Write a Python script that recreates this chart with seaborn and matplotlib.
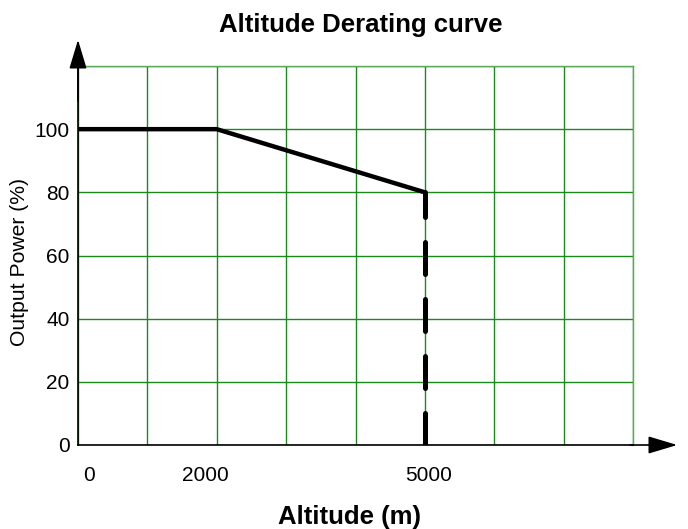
import matplotlib
matplotlib.use("Agg")
import matplotlib.pyplot as plt
import matplotlib.transforms as mtransforms
import seaborn as sns
import pandas as pd

altitude = [0, 2000, 5000]
power = [100, 100, 80]
cutoff_altitude = [5000, 5000]
cutoff_power = [0, 80]
x_grid = [0, 1000, 2000, 3000, 4000, 5000, 6000, 7000, 8000]
x_labels = ["0", "", "2000", "", "", "5000", "", "", ""]
y_grid = [0, 20, 40, 60, 80, 100, 120]
y_labels = ["0", "20", "40", "60", "80", "100", ""]

sns.set_theme(style="white")
plt.rcParams["font.family"] = ["Liberation Sans", "DejaVu Sans"]
plt.rcParams["text.color"] = "black"
plt.rcParams["xtick.color"] = "black"
plt.rcParams["ytick.color"] = "black"

fig = plt.figure(figsize=(6.88, 5.29), dpi=100)
ax = fig.add_axes([78 / 688, 84 / 529, 555 / 688, 379 / 529])

df1 = pd.DataFrame({"alt": altitude, "pw": power})
df2 = pd.DataFrame({"alt": cutoff_altitude, "pw": cutoff_power})

sns.lineplot(data=df1, x="alt", y="pw", ax=ax, color="black", lw=3.2,
             estimator=None, sort=False, zorder=5)
ax.lines[-1].set_solid_capstyle("round")
ax.lines[-1].set_solid_joinstyle("round")
sns.lineplot(data=df2, x="alt", y="pw", ax=ax, color="black", lw=3.6,
             estimator=None, sort=False, zorder=5)
ax.lines[-1].set_dashes((6.4, 5.0))
ax.lines[-1].set_dash_capstyle("round")

ax.set_xlim(0, 8000)
ax.set_ylim(0, 120)
ax.set_xticks(x_grid)
ax.set_xticklabels(x_labels, fontsize=15, color="black")
ax.set_yticks(y_grid)
ax.set_yticklabels(y_labels, fontsize=15, color="black")
ax.tick_params(axis="both", length=0)
ax.tick_params(axis="x", pad=15)
ax.tick_params(axis="y", pad=6)
ax.grid(True, color="#1a8a1a", lw=1.0)
ax.set_axisbelow(True)

# small horizontal offsets of the x tick labels as in the reference
offsets_px = {"0": 11, "2000": -11, "5000": 4}
for lab in ax.get_xticklabels():
    dx = offsets_px.get(lab.get_text(), 0)
    if dx:
        lab.set_transform(lab.get_transform() +
                          mtransforms.ScaledTranslation(dx / 100, 0, fig.dpi_scale_trans))

for s in ["top", "right"]:
    ax.spines[s].set_color("#5aaa5a")
    ax.spines[s].set_linewidth(1.0)
for s in ["left", "bottom"]:
    ax.spines[s].set_color("black")
    ax.spines[s].set_linewidth(1.2)

# axis arrows
arrow = dict(arrowstyle="-|>,head_length=1.5,head_width=0.45", color="black", lw=1.2)
ax.annotate("", xy=(0, (445 - 37) / 379), xycoords="axes fraction", xytext=(0, 0.9),
            textcoords="axes fraction", arrowprops=arrow, annotation_clip=False)
ax.annotate("", xy=((680 - 78) / 555, 0), xycoords="axes fraction", xytext=(0.99, 0),
            textcoords="axes fraction", arrowprops=arrow, annotation_clip=False)

ax.set_xlabel("")
ax.set_ylabel("")
fig.text(361 / 688, 1 - 32 / 529, "Altitude Derating curve", ha="center", va="baseline",
         fontsize=18.5, fontweight="bold")
fig.text(349 / 688, 1 - 524 / 529, "Altitude (m)", ha="center", va="baseline",
         fontsize=18.5, fontweight="bold")
fig.text(20 / 688, 1 - 262 / 529, "Output Power (%)", ha="center", va="center",
         fontsize=15.2, rotation=90)

fig.savefig("out.png", dpi=100)
